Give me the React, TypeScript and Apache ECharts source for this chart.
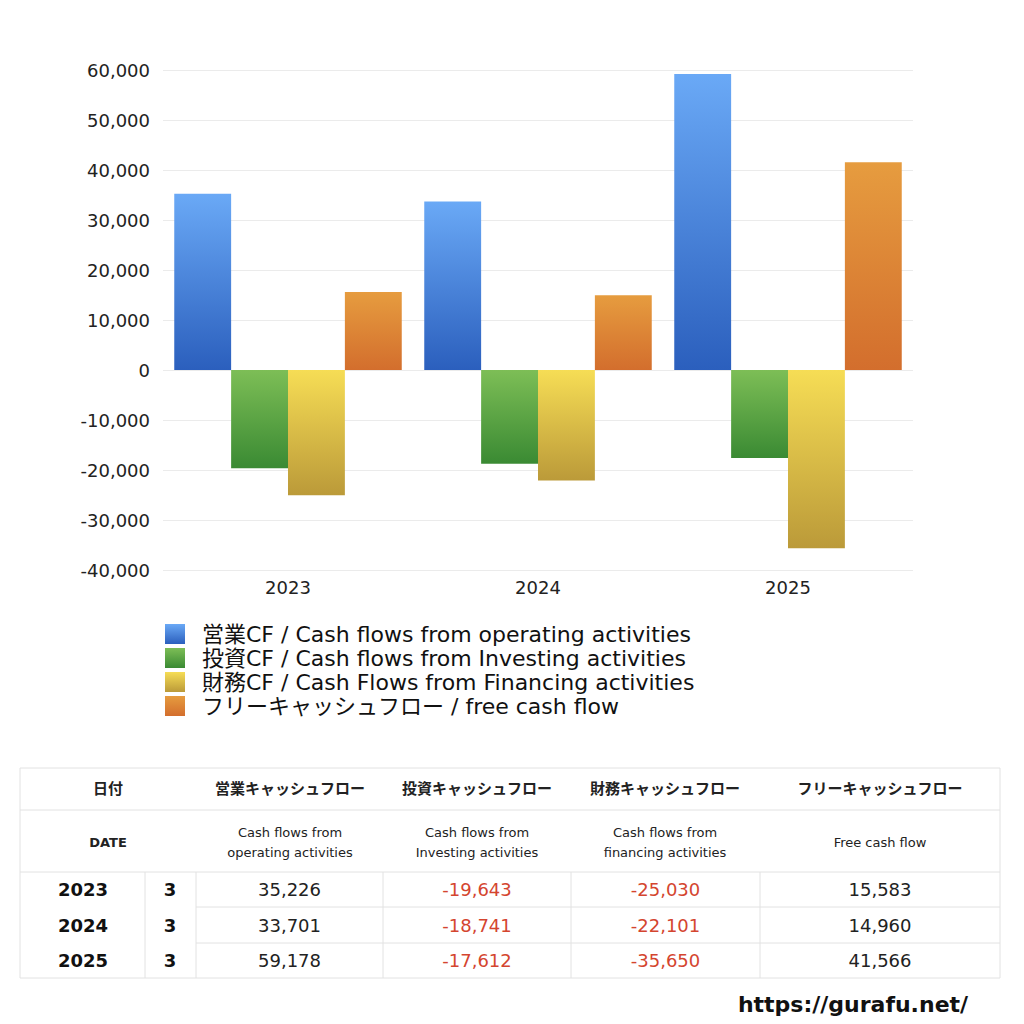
import React, { useEffect, useRef } from 'react';
import * as echarts from 'echarts';

// 年度
const years = ['2023', '2024', '2025'];
const months = ['3', '3', '3'];

// キャッシュフロー（百万円）
const operatingCF = [35226, 33701, 59178];
const investingCF = [-19643, -18741, -17612];
const financingCF = [-25030, -22101, -35650];
const freeCF = [15583, 14960, 41566];

const yTicks = { min: -40000, max: 60000, interval: 10000 };

const legendNames = [
  '営業CF / Cash flows from operating activities',
  '投資CF / Cash flows from Investing activities',
  '財務CF / Cash Flows from Financing activities',
  'フリーキャッシュフロー / free cash flow',
];

const headJa = ['営業キャッシュフロー', '投資キャッシュフロー', '財務キャッシュフロー', 'フリーキャッシュフロー'];
const headEn = [
  'Cash flows from\noperating activities',
  'Cash flows from\nInvesting activities',
  'Cash flows from\nfinancing activities',
  'Free cash flow',
];

const FONT = '"DejaVu Sans", "Noto Sans CJK JP", sans-serif';

const grad = (top: string, bottom: string) =>
  new echarts.graphic.LinearGradient(0, 0, 0, 1, [
    { offset: 0, color: top },
    { offset: 1, color: bottom },
  ]);

const colors = [
  grad('#6aa9f6', '#2b5fbd'),
  grad('#7dbe56', '#3a8a33'),
  grad('#f6dd55', '#bb9a39'),
  grad('#e69c3f', '#d36e2d'),
];

// テーブル
const buildTable = () => {
  const els: any[] = [];
  const line = '#e2e2e2';
  const L = 20, R = 1000;
  const colX = [20, 145, 196, 383, 571, 760, 1000];
  const rowY = [768, 810, 872, 907, 943, 978];

  const hline = (x1: number, x2: number, y: number) =>
    els.push({ type: 'line', shape: { x1, y1: y, x2, y2: y }, style: { stroke: line, lineWidth: 1 }, silent: true });
  const vline = (x: number, y1: number, y2: number) =>
    els.push({ type: 'line', shape: { x1: x, y1, x2: x, y2 }, style: { stroke: line, lineWidth: 1 }, silent: true });
  const text = (x: number, y: number, t: string, size: number, weight: string, fill: string, lh?: number) =>
    els.push({
      type: 'text', x, y, silent: true,
      style: { text: t, fontSize: size, fontWeight: weight, fill, fontFamily: FONT, align: 'center', verticalAlign: 'middle', lineHeight: lh },
    });

  [768, 810, 872, 978].forEach((y) => hline(L, R, y));
  [907, 943].forEach((y) => hline(196, R, y));
  vline(L, 768, 978);
  vline(R, 768, 978);
  [145, 196, 383, 571, 760].forEach((x) => vline(x, 872, 978));

  const headCenters = [290, 477, 665, 880];
  text(108, 789, '日付', 15, 'bold', '#222');
  text(108, 842, 'DATE', 13, 'bold', '#222');
  headJa.forEach((t, i) => text(headCenters[i], 789, t, 15, 'bold', '#222'));
  headEn.forEach((t, i) => text(headCenters[i], 842, t, 13, 'normal', '#222', 20));

  const cols = [operatingCF, investingCF, financingCF, freeCF];
  years.forEach((yr, r) => {
    const cy = (rowY[r + 2] + rowY[r + 3]) / 2;
    text(83, cy, yr, 18, 'bold', '#111');
    text(170, cy, months[r], 18, 'bold', '#111');
    cols.forEach((c, i) => {
      const v = c[r];
      text((colX[i + 2] + colX[i + 3]) / 2, cy, v.toLocaleString('en-US'), 18, 'normal', v < 0 ? '#d4452f' : '#222');
    });
  });

  text(853, 1004, 'https://gurafu.net/', 22, 'bold', '#111');
  return els;
};

const App: React.FC = () => {
  const chartRef = useRef<HTMLDivElement>(null);

  useEffect(() => {
    if (!chartRef.current) return;
    const chart = echarts.init(chartRef.current, undefined, { renderer: 'svg' });
    const series = [operatingCF, investingCF, financingCF, freeCF].map((d, i) => ({
      name: legendNames[i],
      type: 'bar' as const,
      data: d,
      barGap: '0%',
      barCategoryGap: '9%',
      itemStyle: { color: colors[i] },
    }));

    chart.setOption({
      animation: false,
      backgroundColor: '#fff',
      textStyle: { fontFamily: FONT },
      grid: { left: 163, right: 111, top: 70, bottom: 454 },
      xAxis: {
        type: 'category',
        data: years,
        axisLine: { show: false },
        axisTick: { show: false },
        axisLabel: { color: '#222', fontSize: 18, margin: 8, fontFamily: FONT },
      },
      yAxis: {
        type: 'value',
        min: yTicks.min,
        max: yTicks.max,
        interval: yTicks.interval,
        axisLine: { show: false },
        axisTick: { show: false },
        axisLabel: {
          color: '#222',
          fontSize: 18,
          margin: 13,
          fontFamily: FONT,
          formatter: (v: number) => v.toLocaleString('en-US'),
        },
        splitLine: { lineStyle: { color: '#ebebeb' } },
      },
      legend: {
        orient: 'vertical',
        left: 160,
        top: 618,
        icon: 'rect',
        itemWidth: 20,
        itemHeight: 20,
        itemGap: 2,
        selectedMode: false,
        textStyle: { fontSize: 22, color: '#111', lineHeight: 22, fontFamily: FONT, padding: [0, 0, 0, 12] },
        data: legendNames,
      },
      series,
      graphic: buildTable(),
    });

    return () => {
      chart.dispose();
    };
  }, []);

  return (
    <div
      ref={chartRef}
      style={{ position: 'absolute', left: 0, top: 0, width: '1024px', height: '1024px' }}
    />
  );
};

export default App;
